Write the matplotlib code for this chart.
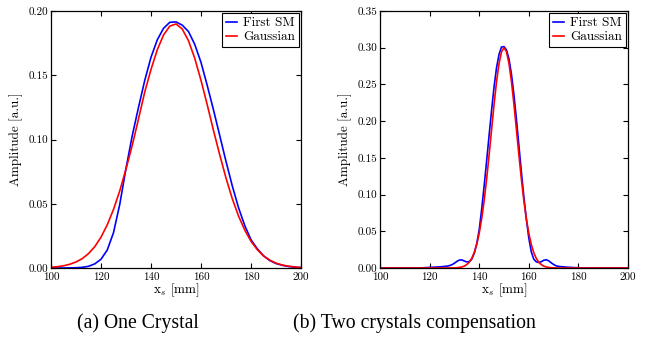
import numpy as np
from matplotlib import pyplot as plt

# ---- data ----
# (a) one crystal
x_a = [100, 102.5, 105, 107.5, 110, 112.5, 115, 117.5, 120, 122.5, 125, 127.5,
       130, 132.5, 135, 137.5, 140, 142.5, 145, 147.5, 150, 152.5, 155, 157.5,
       160, 162.5, 165, 167.5, 170, 172.5, 175, 177.5, 180, 182.5, 185, 187.5,
       190, 192.5, 195, 197.5, 200]
sm_a = [0.0, 0.0, 0.0, 0.0001, 0.0002, 0.0005, 0.0013, 0.0032, 0.0068, 0.0140,
        0.0275, 0.0495, 0.0775, 0.1030, 0.1250, 0.1460, 0.1640, 0.1775, 0.1865,
        0.1912, 0.1915, 0.1890, 0.1840, 0.1740, 0.1600, 0.1420, 0.1230, 0.1030,
        0.0830, 0.0640, 0.0470, 0.0330, 0.0220, 0.0150, 0.0095, 0.0058, 0.0035,
        0.0021, 0.0012, 0.0006, 0.0003]
gauss_a = [0.0006, 0.0010, 0.0017, 0.0029, 0.0047, 0.0073, 0.0112, 0.0166,
           0.0240, 0.0336, 0.0456, 0.0600, 0.0770, 0.0955, 0.1160, 0.1370,
           0.1545, 0.1698, 0.1813, 0.1882, 0.1899, 0.1860, 0.1768, 0.1632,
           0.1460, 0.1270, 0.1070, 0.0880, 0.0700, 0.0540, 0.0405, 0.0295,
           0.0208, 0.0143, 0.0095, 0.0061, 0.0038, 0.0023, 0.0014, 0.0008,
           0.0004]

# (b) two crystals compensation
x_b = [100, 105, 110, 115, 117.5, 120, 122.5, 125, 127, 128, 129, 130, 131,
       132, 133, 134, 135, 136, 137, 138, 139, 140, 141, 142, 143, 144, 145,
       146, 147, 148, 149, 150, 151, 152, 153, 154, 155, 156, 157, 158, 159,
       160, 161, 162, 163, 164, 165, 166, 167, 168, 169, 170, 171, 172, 175,
       177.5, 180, 182.5, 185, 190, 195, 200]
sm_b = [0.0, 0.0, 0.0, 0.0, 0.0003, 0.0008, 0.0012, 0.0018, 0.0025, 0.0032,
        0.0045, 0.0065, 0.0090, 0.0108, 0.0110, 0.0095, 0.0082, 0.0088, 0.0120,
        0.0200, 0.0330, 0.0520, 0.0800, 0.1120, 0.1460, 0.1810, 0.2150, 0.2470,
        0.2730, 0.2910, 0.3010, 0.3015, 0.2970, 0.2850, 0.2640, 0.2360, 0.2030,
        0.1670, 0.1310, 0.0970, 0.0670, 0.0410, 0.0220, 0.0120, 0.0085, 0.0075,
        0.0085, 0.0105, 0.0112, 0.0098, 0.0072, 0.0048, 0.0030, 0.0022, 0.0012,
        0.0007, 0.0003, 0.0001, 0.0, 0.0, 0.0, 0.0]
gauss_b = [0.0, 0.0, 0.0, 0.0, 0.0, 0.0, 0.0, 0.0, 0.0, 0.0001,
           0.0001, 0.0002, 0.0004, 0.0008, 0.0014, 0.0026, 0.0047, 0.0080,
           0.0132, 0.0209, 0.0320, 0.0472, 0.0671, 0.0919, 0.1212, 0.1542,
           0.1889, 0.2232, 0.2540, 0.2786, 0.2945, 0.3000, 0.2945, 0.2786,
           0.2540, 0.2232, 0.1889, 0.1542, 0.1212, 0.0919, 0.0671, 0.0472,
           0.0320, 0.0209, 0.0132, 0.0080, 0.0047, 0.0026, 0.0014, 0.0008,
           0.0004, 0.0002, 0.0001, 0.0, 0.0, 0.0, 0.0, 0.0, 0.0, 0.0, 0.0,
           0.0]

ticks_a = [0.00, 0.05, 0.10, 0.15, 0.20]
ticks_b = [0.00, 0.05, 0.10, 0.15, 0.20, 0.25, 0.30, 0.35]
xticks = [100, 120, 140, 160, 180, 200]

plt.rcParams['font.family'] = 'cmr10'
plt.rcParams['mathtext.fontset'] = 'cm'
plt.rcParams['axes.formatter.use_mathtext'] = True

fig = plt.figure(figsize=(6.46, 3.46), dpi=100)
ax1 = fig.add_axes([51 / 646, 78 / 346, 250 / 646, 257 / 346])
ax2 = fig.add_axes([380 / 646, 78 / 346, 248 / 646, 257 / 346])

panels = [(ax1, x_a, sm_a, gauss_a, ticks_a, 0.20),
          (ax2, x_b, sm_b, gauss_b, ticks_b, 0.35)]
for ax, x, sm, g, yt, ymax in panels:
    ax.plot(x, sm, color='b', lw=1.2, label='First SM')
    ax.plot(x, g, color='r', lw=1.2, label='Gaussian')
    ax.set_xlim(100, 200)
    ax.set_ylim(0, ymax)
    ax.set_xticks(xticks)
    ax.set_yticks(yt)
    ax.set_xticklabels([str(t) for t in xticks])
    ax.set_yticklabels(['%.2f' % t for t in yt])
    ax.tick_params(direction='in', top=True, right=True, length=3.5,
                   width=0.8, labelsize=8)
    ax.tick_params(axis='x', pad=3)
    ax.tick_params(axis='y', pad=2)
    for sp in ax.spines.values():
        sp.set_linewidth(0.9)
    ax.set_xlabel(r'x$_s$ [mm]', fontsize=9.5, labelpad=0)
    ax.set_ylabel('Amplitude [a.u.]', fontsize=9.5, labelpad=4)
    leg = ax.legend(loc='upper right', fontsize=9.5, handlelength=0.8,
                    handletextpad=0.5, borderpad=0.3, labelspacing=0.15,
                    borderaxespad=0.15, fancybox=False, framealpha=1)
    leg.get_frame().set_edgecolor('black')
    leg.get_frame().set_linewidth(0.8)

fig.text(138 / 646, 1 - 323 / 346, '(a) One Crystal', ha='center', va='center',
         fontsize=14.2, family='Liberation Serif')
fig.text(414 / 646, 1 - 323 / 346, '(b) Two crystals compensation', ha='center',
         va='center', fontsize=14.2, family='Liberation Serif')

fig.savefig('out.png', dpi=100)
